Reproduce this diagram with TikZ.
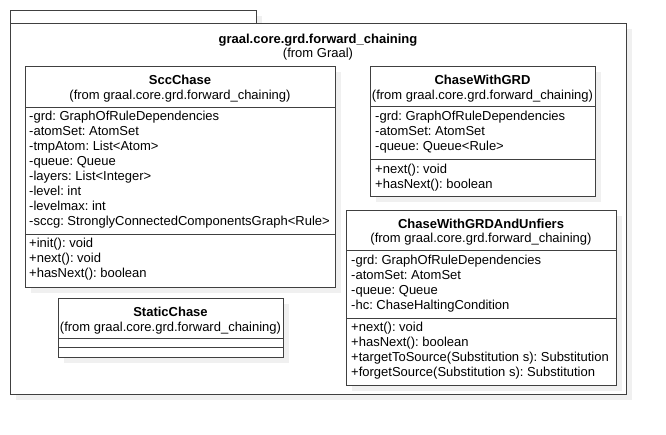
\documentclass[tikz,border=0pt]{standalone}
\usepackage{fontspec}
\setmainfont{Liberation Sans}
\frenchspacing
\tikzset{
	umlline/.style={draw=black!75,line width=1pt},
	umlshadow/.style={fill=black!6},
	member/.style={inner sep=0pt,anchor=base west,font=\fontsize{13}{15}\selectfont},
	cname/.style={inner sep=0pt,anchor=base,font=\fontsize{13}{15}\selectfont\bfseries},
	cfrom/.style={inner sep=0pt,anchor=base,font=\fontsize{13}{15}\selectfont}
}
\begin{document}
\begin{tikzpicture}[x=1pt,y=-1pt]
\useasboundingbox (0,0) rectangle (666,434);
% package
\fill[umlshadow] (16,16) rectangle (262,29);
\fill[umlshadow] (16,29) rectangle (632,400);
\filldraw[umlline,fill=white] (10,10) rectangle (256,23);
\filldraw[umlline,fill=white] (10,23) rectangle (626,394);
\node[cname] (pkg) at (318,43) {graal.core.grd.forward\_chaining};
\node[cfrom] (pkg-from) at (318,57) {(from Graal)};
% SccChase
\fill[umlshadow] (31,72) rectangle (341,293);
\filldraw[umlline,fill=white] (25,66) rectangle (335,287);
\draw[umlline] (25,107) -- (335,107);
\draw[umlline] (25,234) -- (335,234);
\node[cname] (scc) at (180,84) {SccChase};
\node[cfrom] (scc-from) at (180,99) {(from graal.core.grd.forward\_chaining)};
\foreach \a [count=\i] in {-grd: GraphOfRuleDependencies,-atomSet: AtomSet,
	-tmpAtom: List<Atom>,-queue: Queue,-layers: List<Integer>,-level: int,
	-levelmax: int,-sccg: StronglyConnectedComponentsGraph<Rule>}
	\node[member] (scc-a\i) at (29,105.5+15*\i) {\a};
\foreach \m [count=\i] in {+init(): void,+next(): void,+hasNext(): boolean}
	\node[member] (scc-m\i) at (29,232.5+15*\i) {\m};
% StaticChase
\fill[umlshadow] (64,304) rectangle (289,363);
\filldraw[umlline,fill=white] (58,298) rectangle (283,357);
\draw[umlline] (58,338) -- (283,338);
\draw[umlline] (58,347) -- (283,347);
\node[cname] (static) at (170.5,316) {StaticChase};
\node[cfrom] (static-from) at (170.5,331) {(from graal.core.grd.forward\_chaining)};
% ChaseWithGRD
\fill[umlshadow] (376,72) rectangle (601,202);
\filldraw[umlline,fill=white] (370,66) rectangle (595,196);
\draw[umlline] (370,106) -- (595,106);
\draw[umlline] (370,159) -- (595,159);
\node[cname] (grd) at (482.5,84) {ChaseWithGRD};
\node[cfrom] (grd-from) at (482.5,99) {(from graal.core.grd.forward\_chaining)};
\foreach \a [count=\i] in {-grd: GraphOfRuleDependencies,-atomSet: AtomSet,
	-queue: Queue<Rule>}
	\node[member] (grd-a\i) at (375,105+15*\i) {\a};
\foreach \m [count=\i] in {+next(): void,+hasNext(): boolean}
	\node[member] (grd-m\i) at (375,158+15*\i) {\m};
% ChaseWithGRDAndUnfiers
\fill[umlshadow] (352,216) rectangle (622,391);
\filldraw[umlline,fill=white] (346,210) rectangle (616,385);
\draw[umlline] (346,250) -- (616,250);
\draw[umlline] (346,318) -- (616,318);
\node[cname] (unf) at (481,228) {ChaseWithGRDAndUnfiers};
\node[cfrom] (unf-from) at (481,242) {(from graal.core.grd.forward\_chaining)};
\foreach \a [count=\i] in {-grd: GraphOfRuleDependencies,-atomSet: AtomSet,
	-queue: Queue,-hc: ChaseHaltingCondition}
	\node[member] (unf-a\i) at (351,249+15*\i) {\a};
\foreach \m [count=\i] in {+next(): void,+hasNext(): boolean,
	+targetToSource(Substitution s): Substitution,
	+forgetSource(Substitution s): Substitution}
	\node[member] (unf-m\i) at (351,316.5+15*\i) {\m};
\end{tikzpicture}
\end{document}
